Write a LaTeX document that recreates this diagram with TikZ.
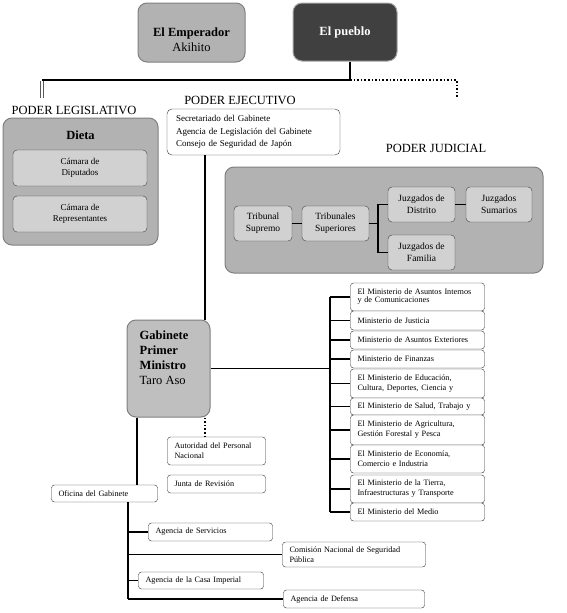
\documentclass[tikz,border=0pt]{standalone}
\usepackage{fontspec}
\setmainfont{Liberation Serif}
\newcommand\bigtext{\fontsize{12.5}{15}\selectfont}
\begin{document}
\begin{tikzpicture}[x=1pt,y=-1pt,
  link/.style={line width=1.6pt},
  dotlink/.style={line width=1.6pt,dotted},
  hollow/.style={draw=black!65,double=white,line width=.8pt,double distance=2pt},
  greybox/.style={draw=black!50,line width=1pt,rounded corners=9pt,inner sep=0pt},
  cell/.style={draw=black!75,rounded corners=4pt,fill=black!18,align=center,inner sep=0pt,font=\fontsize{9.5}{12}\selectfont},
  sbox/.style={draw=black!80,rounded corners=3pt,fill=white,align=left,inner xsep=7pt,inner ysep=0pt,font=\fontsize{8.2}{10}\selectfont,text width=#1},
  powerlabel/.style={font=\bigtext},
  headtext/.style={font=\bigtext\bfseries}]
\useasboundingbox (0,0) rectangle (567,613);
\node[greybox,fill=black!30,minimum width=107,minimum height=59,align=center,font=\bigtext,text height=40pt,text depth=3pt] (emp) at (191.5,32.5) {\textbf{El Emperador}\\Akihito};
\node[greybox,draw=black!35,fill=black!75,text=white,minimum width=104,minimum height=58,font=\bigtext\bfseries] (pueblo) at (345,32) {El pueblo};
\coordinate (split) at (350,80);
\coordinate (legbend) at (42,81);
\coordinate (legfoot) at (42,98);
\coordinate (judfoot) at (457,97);
\draw[hollow] (legbend) -- (legfoot);
\draw[link] (pueblo.south -| split) -- (split) -- (split -| legbend);
\draw[dotlink] (split) -| (judfoot);
\node[powerlabel] (leglabel) at (74,110) {PODER LEGISLATIVO};
\node[powerlabel] (ejelabel) at (240,100) {PODER EJECUTIVO};
\node[powerlabel] (judlabel) at (436,148) {PODER JUDICIAL};
\node[greybox,fill=black!30,minimum width=155,minimum height=127] (dieta) at (80.5,181.5) {};
\node[headtext] (dietatitle) at (80.5,135) {Dieta};
\node[cell,minimum width=134,minimum height=36,font=\fontsize{9}{11}\selectfont] (dip) at (80,168) {Cámara de\\Diputados};
\node[cell,minimum width=134,minimum height=36,font=\fontsize{9}{11}\selectfont] (rep) at (80,214) {Cámara de\\Representantes};
\node[sbox=155pt,font=\fontsize{9}{12.5}\selectfont,minimum height=46,rounded corners=5pt,inner xsep=9pt] (exec) at (253.5,132) {Secretariado del Gabinete\\Agencia de Legislación del Gabinete\\Consejo de Seguridad de Japón};
\node[greybox,fill=black!30,minimum width=318,minimum height=106] (judicial) at (384,220) {};
\node[cell,minimum width=58,minimum height=35] (sup) at (263,223.5) {Tribunal\\Supremo};
\node[cell,minimum width=67,minimum height=35] (tsup) at (335.5,223.5) {Tribunales\\Superiores};
\node[cell,minimum width=67,minimum height=35] (dis) at (421.5,204.5) {Juzgados de\\Distrito};
\node[cell,minimum width=66,minimum height=35] (sum) at (499,204.5) {Juzgados\\Sumarios};
\node[cell,minimum width=67,minimum height=35] (fam) at (421.5,252.5) {Juzgados de\\Familia};
\coordinate (jfork) at (378,223.5);
\draw[link] (sup.east) -- (tsup.west);
\draw[link] (tsup.east) -- (jfork) |- (dis.west);
\draw[link] (jfork) |- (fam.west);
\draw[link] (dis.east) -- (sum.west);
\node[greybox,fill=black!25,minimum width=83,minimum height=97] (gab) at (168.5,368.5) {};
\node[headtext,align=left,anchor=north west,inner sep=0pt] (gabtext) at ([xshift=13pt,yshift=-11pt]gab.north west) {Gabinete\\Primer\\Ministro\\{\mdseries Taro Aso}};
\coordinate (execdrop) at (205,0);
\draw[link] (exec.south -| execdrop) -- (gab.north -| execdrop);
\node[sbox=120pt,minimum height=28] (min1) at (417.5,297) {El Ministerio de Asuntos Internos\\[-2pt]y de Comunicaciones};
\node[sbox=120pt,minimum height=19] (min2) at (417.5,320.5) {Ministerio de Justicia};
\node[sbox=120pt,minimum height=18] (min3) at (417.5,340) {Ministerio de Asuntos Exteriores};
\node[sbox=120pt,minimum height=18] (min4) at (417.5,359) {Ministerio de Finanzas};
\node[sbox=120pt,minimum height=29] (min5) at (417.5,383.5) {El Ministerio de Educación,\\Cultura, Deportes, Ciencia y};
\node[sbox=120pt,minimum height=17] (min6) at (417.5,406.5) {El Ministerio de Salud, Trabajo y};
\node[sbox=120pt,minimum height=30] (min7) at (417.5,430) {El Ministerio de Agricultura,\\Gestión Forestal y Pesca};
\node[sbox=120pt,minimum height=28] (min8) at (417.5,459) {El Ministerio de Economía,\\Comercio e Industria};
\node[sbox=120pt,minimum height=28] (min9) at (417.5,489) {El Ministerio de la Tierra,\\Infraestructuras y Transporte};
\node[sbox=120pt,minimum height=18] (min10) at (417.5,512) {El Ministerio del Medio};
\coordinate (bus) at (330,0);
\draw[link] (min1.west -| bus) -- (min10.west -| bus);
\draw[link] (gab.east) -- (gab.east -| bus);
\foreach \m in {1,...,10} \draw[link] (min\m.west -| bus) -- (min\m.west);
\node[sbox=84pt,minimum height=28] (aut) at (216.5,451) {Autoridad del Personal\\Nacional};
\node[sbox=84pt,minimum height=18] (junta) at (216.5,484) {Junta de Revisión};
\node[sbox=92pt,minimum height=17] (ofi) at (104.5,493.5) {Oficina del Gabinete};
\coordinate (gabdrop) at (137,0);
\draw[link] (gab.south -| gabdrop) -- (ofi.north -| gabdrop);
\draw[dotlink] (gab.south -| execdrop) -- (aut.north -| execdrop);
\node[sbox=110pt,minimum height=18] (serv) at (210.5,532) {Agencia de Servicios};
\node[sbox=129pt,minimum height=25] (com) at (354,554.5) {Comisión Nacional de Seguridad\\Pública};
\node[sbox=111pt,minimum height=17] (casa) at (201,580.5) {Agencia de la Casa Imperial};
\node[sbox=127pt,minimum height=18] (def) at (354,599) {Agencia de Defensa};
\coordinate (ofibus) at (128,0);
\draw[link] (ofi.south -| ofibus) -- (def.west -| ofibus);
\foreach \b in {serv,com,casa,def} \draw[link] (\b.west -| ofibus) -- (\b.west);
\end{tikzpicture}
\end{document}
